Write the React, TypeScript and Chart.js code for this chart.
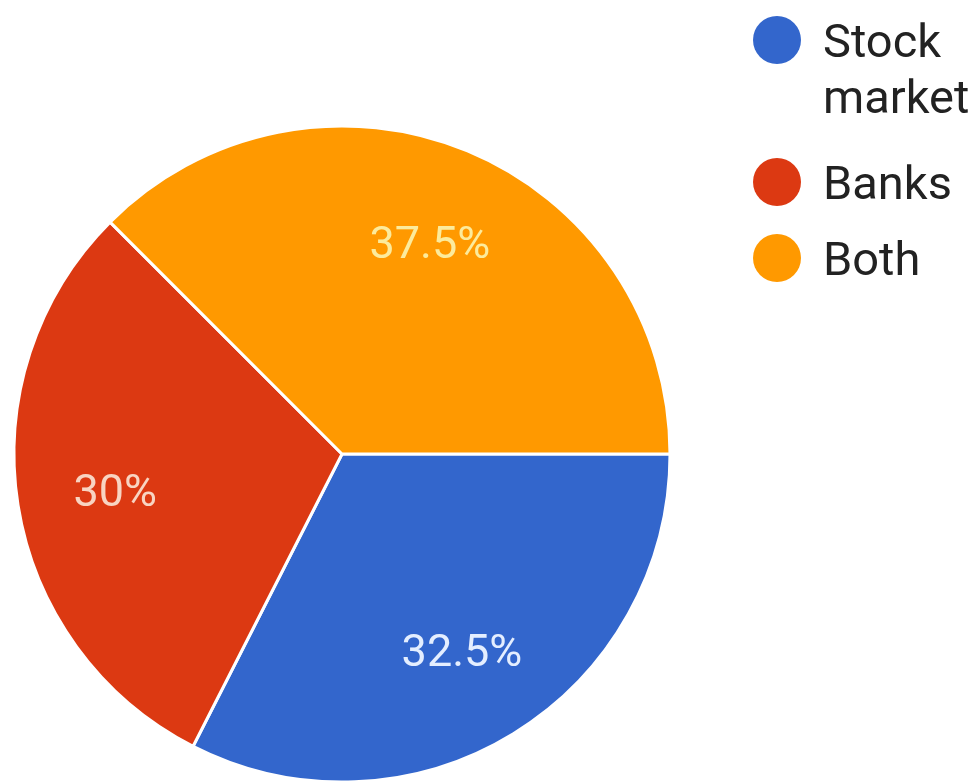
import React, { useEffect, useRef } from "react";
import { Chart, registerables } from "chart.js";

Chart.register(...registerables);

const categories = ["Stock market", "Banks", "Both"];
const legendLines = [["Stock", "market"], ["Banks"], ["Both"]];
const shares = [32.5, 30, 37.5];
const percentLabels = ["32.5%", "30%", "37.5%"];
const sliceColors = ["#3366CC", "#DC3912", "#FF9900"];
const labelColors = ["#E4EEFF", "#F8D4C2", "#FCEB9C"];

const FONT = "Roboto, 'Noto Sans', sans-serif";

const sliceLabelPlugin = {
  id: "sliceLabels",
  afterDatasetsDraw(chart: any) {
    const ctx = chart.ctx;
    const meta = chart.getDatasetMeta(0);
    const size = 45;
    ctx.save();
    ctx.font = `400 ${size}px ${FONT}`;
    ctx.textAlign = "center";
    ctx.textBaseline = "alphabetic";
    meta.data.forEach((arc: any, i: number) => {
      const mid = (arc.startAngle + arc.endAngle) / 2;
      const r = arc.outerRadius * 0.7;
      const x = arc.x + Math.cos(mid) * r;
      const y = arc.y + Math.sin(mid) * r;
      ctx.fillStyle = labelColors[i];
      ctx.fillText(percentLabels[i], x, y + size * 0.355);
    });
    ctx.restore();
  },
};

const legendRows = [40, 182, 258];

const customLegendPlugin = {
  id: "customLegend",
  afterDraw(chart: any) {
    const ctx = chart.ctx;
    const size = 47;
    const lineH = 56;
    ctx.save();
    ctx.font = `400 ${size}px ${FONT}`;
    ctx.textAlign = "left";
    ctx.textBaseline = "alphabetic";
    legendLines.forEach((lines, i) => {
      const cy = legendRows[i];
      ctx.beginPath();
      ctx.arc(777, cy, 24, 0, Math.PI * 2);
      ctx.fillStyle = sliceColors[i];
      ctx.fill();
      ctx.fillStyle = "#222222";
      lines.forEach((t, j) => {
        ctx.fillText(t, 823, cy + 17 + j * lineH);
      });
    });
    ctx.restore();
  },
};

export default function App() {
  const ref = useRef<HTMLCanvasElement | null>(null);
  useEffect(() => {
    if (!ref.current) return;
    document.body.style.overflow = "hidden";
    const chart = new Chart(ref.current, {
      type: "pie",
      data: {
        labels: categories,
        datasets: [
          {
            data: shares,
            backgroundColor: sliceColors,
            borderColor: "#ffffff",
            borderWidth: 3,
          },
        ],
      },
      options: {
        animation: false,
        responsive: true,
        maintainAspectRatio: false,
        rotation: 90,
        layout: {
          padding: { left: 12.5, right: 308.5, top: 124.5, bottom: 16.5 },
        },
        plugins: {
          legend: { display: false },
          tooltip: { enabled: false },
          title: { display: false },
        },
      },
      plugins: [sliceLabelPlugin, customLegendPlugin],
    });
    return () => chart.destroy();
  }, []);
  return (
    <div
      style={{
        position: "fixed",
        left: 0,
        top: 0,
        width: 980,
        height: 800,
        background: "#ffffff",
      }}
    >
      <canvas ref={ref} />
    </div>
  );
}
